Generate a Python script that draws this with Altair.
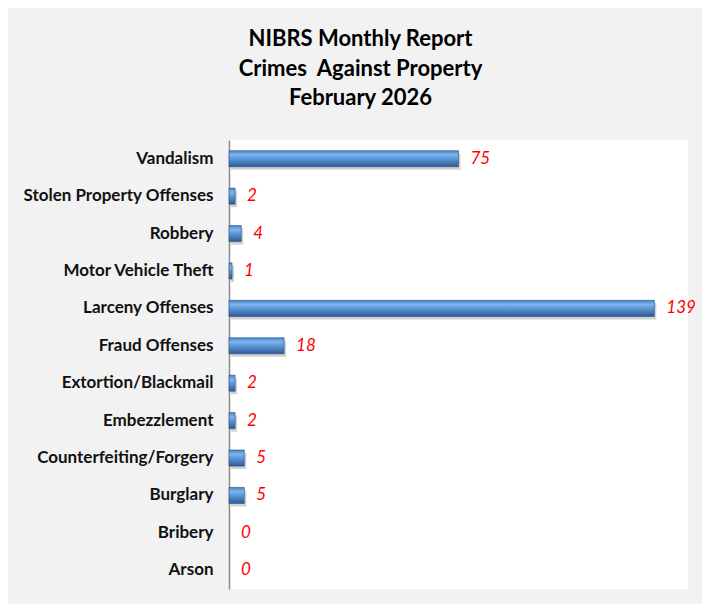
import altair as alt
import pandas as pd

categories = ["Vandalism", "Stolen Property Offenses", "Robbery", "Motor Vehicle Theft",
              "Larceny Offenses", "Fraud Offenses", "Extortion/Blackmail", "Embezzlement",
              "Counterfeiting/Forgery", "Burglary", "Bribery", "Arson"]
counts = [75, 2, 4, 1, 139, 18, 2, 2, 5, 5, 0, 0]
title_lines = ["NIBRS Monthly Report", "Crimes\u00a0 Against Property", "February 2026"]

df = pd.DataFrame({"crime": categories, "count": counts})

FONT = "Lato"

y_enc = alt.Y("crime:N", sort=categories, title=None,
              scale=alt.Scale(paddingInner=0.57, paddingOuter=0.285),
              axis=alt.Axis(labelFont=FONT, labelFontWeight="bold", labelFontSize=17,
                            labelColor="#111111", labelPadding=16, ticks=False,
                            labelLimit=400,
                            domainColor="#8c8c8c", domainWidth=1.5, grid=False))
x_enc = alt.X("count:Q", title=None, scale=alt.Scale(domain=[0, 150], nice=False),
              axis=None)

shadow = alt.Chart(df).transform_filter("datum.count > 0").mark_bar(
    color="#000000", opacity=0.18, yOffset=3, xOffset=2).encode(y=y_enc, x=x_enc)

bars = alt.Chart(df).transform_filter("datum.count > 0").mark_bar(
    stroke="#2b5283", strokeWidth=0.6,
    color=alt.Gradient(
        gradient="linear", x1=0, x2=0, y1=0, y2=1,
        stops=[alt.GradientStop(offset=0, color="#4a80c4"),
               alt.GradientStop(offset=0.25, color="#7bb6f0"),
               alt.GradientStop(offset=0.5, color="#5e97d8"),
               alt.GradientStop(offset=1, color="#2c5a93")])
).encode(y=y_enc, x=x_enc)

labels = alt.Chart(df).mark_text(
    align="left", baseline="middle", dx=12, font=FONT, fontSize=17,
    fontStyle="italic", color="#ff0000"
).encode(y=y_enc, x=x_enc, text="count:Q")

chart = alt.layer(shadow, bars, labels).properties(
    width=459, height=449,
    padding={"left": 221, "top": 132, "right": 14, "bottom": 15},
    autosize=alt.AutoSizeParams(type="none"),
    background="#f2f2f2",
    title=alt.TitleParams(text=title_lines, font=FONT, fontSize=22, fontWeight="bold",
                          color="#000000", lineHeight=29.5, anchor="middle",
                          dx=-98, offset=30),
).configure_view(fill="#ffffff", stroke=None)

chart.save("out.html", embed_options={"renderer": "svg", "actions": False})
